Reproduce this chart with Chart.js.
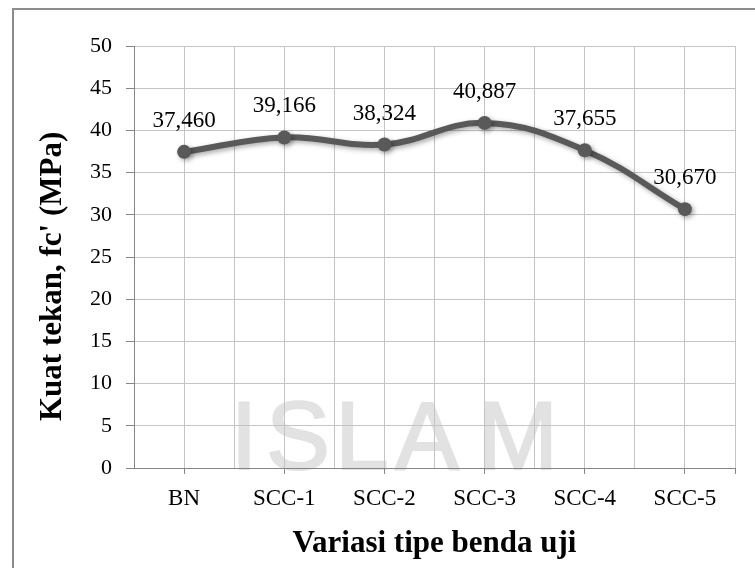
<!DOCTYPE html>
<html>
<head>
<meta charset="utf-8">
<title>Kuat tekan</title>
<script src="https://cdn.jsdelivr.net/npm/chart.js@4.4.1/dist/chart.umd.min.js"></script>
<style>
  html, body { margin: 0; padding: 0; background: #fff; overflow: hidden; }
  #wrap { position: relative; width: 755px; height: 568px; }
  #frame {
    position: absolute; left: 12px; top: 8px; width: 780px; height: 600px;
    border: 2px solid #8c8c8c; box-sizing: border-box; pointer-events: none;
  }
  #chart { position: absolute; left: 0; top: 0; }
</style>
</head>
<body>
<div id="wrap">
  <canvas id="chart" width="755" height="568"></canvas>
  <div id="frame"></div>
</div>
<script>
const categories = ['BN', 'SCC-1', 'SCC-2', 'SCC-3', 'SCC-4', 'SCC-5'];
const strengths = [37.460, 39.166, 38.324, 40.887, 37.655, 30.670];
const yMin = 0, yMax = 50, yStep = 5;

const serif = '"Liberation Serif", "Times New Roman", serif';
const gridColor = '#c4c4c4';
const axisColor = '#868686';

// faint campus watermark behind everything, letters spaced out by hand
const watermark = {
  id: 'watermark',
  beforeDraw(chart) {
    const ctx = chart.ctx;
    const letters = 'ISLAM';
    const centers = [244, 298, 362, 427, 518];
    ctx.save();
    ctx.fillStyle = '#e2e2e2';
    ctx.strokeStyle = '#e2e2e2';
    ctx.lineWidth = 2;
    ctx.font = '96px "Liberation Sans", sans-serif';
    ctx.textAlign = 'center';
    ctx.textBaseline = 'alphabetic';
    for (let i = 0; i < letters.length; i++) {
      ctx.fillText(letters[i], centers[i], 469);
      ctx.strokeText(letters[i], centers[i], 469);
    }
    ctx.restore();
  }
};

// soft shadow under the line like excel's default
const lineShadow = {
  id: 'lineShadow',
  beforeDatasetDraw(chart) {
    const ctx = chart.ctx;
    ctx.save();
    ctx.shadowColor = 'rgba(0,0,0,0.35)';
    ctx.shadowBlur = 5;
    ctx.shadowOffsetX = 2;
    ctx.shadowOffsetY = 2;
  },
  afterDatasetDraw(chart) {
    chart.ctx.restore();
  }
};

const valueLabels = {
  id: 'valueLabels',
  afterDatasetsDraw(chart) {
    const ctx = chart.ctx;
    const meta = chart.getDatasetMeta(0);
    ctx.save();
    ctx.font = '23px ' + serif;
    ctx.fillStyle = '#000';
    ctx.textAlign = 'center';
    ctx.textBaseline = 'middle';
    meta.data.forEach((pt, i) => {
      ctx.fillText(strengths[i].toFixed(3).replace('.', ','), pt.x, pt.y - 31);
    });
    ctx.restore();
  }
};

const ctx = document.getElementById('chart').getContext('2d');

new Chart(ctx, {
  type: 'line',
  data: {
    datasets: [{
      data: strengths.map((v, i) => ({ x: i, y: v })),
      borderColor: '#595959',
      backgroundColor: '#595959',
      borderWidth: 6,
      tension: 0.4,
      pointRadius: 7,
      pointBorderWidth: 0,
      pointBackgroundColor: '#595959',
      fill: false
    }]
  },
  options: {
    responsive: false,
    animation: false,
    events: [],
    layout: { padding: { left: 0, top: 46, right: 20, bottom: 0 } },
    plugins: {
      legend: { display: false },
      tooltip: { enabled: false }
    },
    scales: {
      x: {
        type: 'linear',
        min: -0.5,
        max: 5.5,
        afterFit: (s) => { s.height = 100; },
        ticks: {
          stepSize: 0.5,
          autoSkip: false,
          maxRotation: 0,
          padding: 11,
          color: '#000',
          font: { family: serif, size: 23 },
          callback: (v) => Number.isInteger(v) ? categories[v] : ''
        },
        grid: {
          color: gridColor,
          tickLength: 6,
          tickColor: (c) => (c.tick && (Number.isInteger(c.tick.value) || c.tick.value === 5.5)) ? axisColor : 'transparent'
        },
        border: { color: axisColor },
        title: {
          display: true,
          text: 'Variasi tipe benda uji',
          color: '#000',
          font: { family: serif, size: 31, weight: 'bold' },
          padding: { top: 0, bottom: 5 }
        }
      },
      y: {
        min: yMin,
        max: yMax,
        afterFit: (s) => { s.width = 134; },
        ticks: {
          stepSize: yStep,
          padding: 14,
          color: '#000',
          font: { family: serif, size: 22 }
        },
        grid: { color: gridColor, tickLength: 8, tickColor: axisColor },
        border: { color: axisColor },
        title: {
          display: true,
          // trailing spaces push the visible text a bit lower, as in the original
          text: 'Kuat tekan, fc\' (MPa)\u00a0\u00a0\u00a0\u00a0\u00a0',
          color: '#000',
          font: { family: serif, size: 31, weight: 'bold' },
          padding: { top: 34, bottom: 0 }
        }
      }
    }
  },
  plugins: [watermark, lineShadow, valueLabels]
});
</script>
</body>
</html>
